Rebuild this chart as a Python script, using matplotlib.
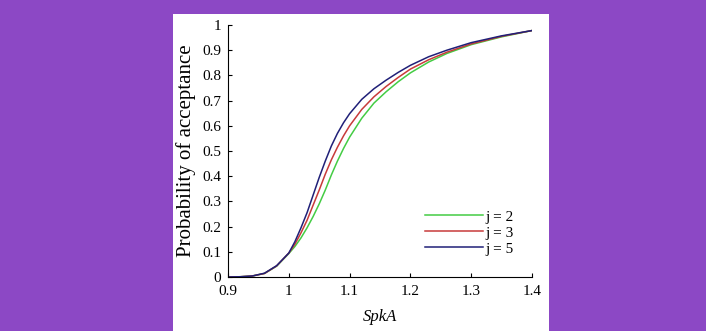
import matplotlib
matplotlib.use("Agg")
import matplotlib.pyplot as plt

x = [0.90, 0.92, 0.94, 0.96, 0.98, 1.00, 1.01, 1.02, 1.03, 1.04, 1.05, 1.06,
     1.07, 1.08, 1.09, 1.10, 1.12, 1.14, 1.16, 1.18, 1.20, 1.23, 1.26, 1.30,
     1.35, 1.40]
j2 = [0.000, 0.001, 0.004, 0.014, 0.043, 0.093, 0.121, 0.155, 0.195, 0.240,
      0.290, 0.345, 0.405, 0.460, 0.510, 0.555, 0.630, 0.690, 0.735, 0.775,
      0.810, 0.853, 0.887, 0.922, 0.953, 0.978]
j3 = [0.000, 0.001, 0.004, 0.014, 0.044, 0.095, 0.130, 0.175, 0.225, 0.285,
      0.345, 0.408, 0.465, 0.515, 0.560, 0.600, 0.665, 0.715, 0.756, 0.792,
      0.825, 0.862, 0.892, 0.925, 0.955, 0.978]
j5 = [0.000, 0.001, 0.004, 0.015, 0.045, 0.095, 0.140, 0.195, 0.255, 0.325,
      0.395, 0.460, 0.520, 0.570, 0.612, 0.648, 0.705, 0.747, 0.781, 0.812,
      0.840, 0.874, 0.900, 0.930, 0.957, 0.978]
labels = ["j = 2", "j = 3", "j = 5"]
colors = ["#44cc44", "#c83a3a", "#202078"]
xticks = [0.9, 1.0, 1.1, 1.2, 1.3, 1.4]
xticklabels = ["0.9", "1", "1.1", "1.2", "1.3", "1.4"]
yticks = [0, 0.1, 0.2, 0.3, 0.4, 0.5, 0.6, 0.7, 0.8, 0.9, 1.0]
yticklabels = ["0", "0.1", "0.2", "0.3", "0.4", "0.5", "0.6", "0.7", "0.8", "0.9", "1"]

plt.rcParams['font.family'] = ['Liberation Serif', 'DejaVu Serif']
W, H = 706, 331
fig = plt.figure(figsize=(W / 100, H / 100), dpi=100)
fig.patch.set_facecolor("#8c48c5")

bg = fig.add_axes([173 / W, 0, (549 - 173) / W, (331 - 14) / H], zorder=-1)
bg.set_facecolor("white")
bg.set_xticks([])
bg.set_yticks([])
for s in bg.spines.values():
    s.set_visible(False)

ax = fig.add_axes([228 / W, (H - 277) / H, (532 - 228) / W, (277 - 25) / H], zorder=1)
ax.set_facecolor("none")
for yv, lab, c in zip([j2, j3, j5], labels, colors):
    ax.plot(x, yv, color=c, lw=1.1, label=lab, solid_joinstyle="round")

ax.set_xlim(0.9, 1.4)
ax.set_ylim(0, 1)
ax.set_xticks(xticks)
ax.set_xticklabels(xticklabels)
ax.set_yticks(yticks)
ax.set_yticklabels(yticklabels)
ax.tick_params(direction="in", length=3, labelsize=11, width=0.8)
ax.tick_params(axis="x", pad=6)
ax.tick_params(axis="y", pad=5)
ax.spines["top"].set_visible(False)
ax.spines["right"].set_visible(False)
ax.set_xlabel("SpkA", fontsize=12, style="italic", labelpad=8)
ax.set_ylabel("Probability of acceptance", fontsize=15, labelpad=4)
leg = ax.legend(loc="lower right", frameon=False, fontsize=11,
                bbox_to_anchor=(0.985, 0.03), handlelength=3.8, handletextpad=0.15,
                labelspacing=0.15)

fig.savefig("out.png", dpi=100, facecolor=fig.get_facecolor())
